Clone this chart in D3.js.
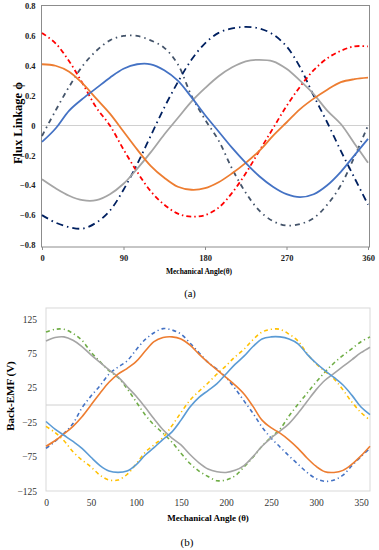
<!doctype html>
<html lang="en">
<head>
<meta charset="utf-8">
<script src="https://d3js.org/d3.v7.min.js"></script>
<title>Flux linkage and back-EMF</title>
<style>
  body { margin: 0; background: #fff; }
  svg { display: block; font-family: "Liberation Serif", "Times New Roman", serif; }
</style>
</head>
<body>
<svg id="chart" width="379" height="550"></svg>
<script>
// ---- (a) flux linkage, every 15 degrees
const anglesA = d3.range(0, 361, 15);
const fluxBlue   = [-0.11,-0.02,0.10,0.18,0.25,0.32,0.38,0.41,0.41,0.37,0.30,0.19,0.07,-0.04,-0.15,-0.25,-0.34,-0.41,-0.46,-0.48,-0.46,-0.40,-0.31,-0.20,-0.09];
const fluxOrange = [0.41,0.40,0.36,0.28,0.18,0.08,-0.04,-0.16,-0.27,-0.35,-0.41,-0.43,-0.42,-0.38,-0.32,-0.25,-0.17,-0.07,0.02,0.11,0.18,0.24,0.29,0.31,0.32];
const fluxGray   = [-0.36,-0.42,-0.47,-0.50,-0.50,-0.46,-0.39,-0.29,-0.18,-0.06,0.05,0.16,0.25,0.33,0.39,0.43,0.44,0.43,0.38,0.30,0.21,0.10,0.01,-0.12,-0.25];
const fluxRed    = [0.62,0.55,0.43,0.28,0.12,0.00,-0.16,-0.31,-0.44,-0.53,-0.59,-0.61,-0.60,-0.55,-0.45,-0.32,-0.17,-0.02,0.13,0.26,0.37,0.45,0.50,0.53,0.53];
const fluxNavy   = [-0.60,-0.65,-0.68,-0.69,-0.65,-0.57,-0.43,-0.26,-0.07,0.12,0.29,0.44,0.55,0.62,0.65,0.66,0.65,0.61,0.53,0.39,0.20,0.02,-0.17,-0.35,-0.53];
const fluxSlate  = [-0.07,0.10,0.26,0.40,0.50,0.57,0.60,0.60,0.57,0.52,0.41,0.20,0.04,-0.10,-0.29,-0.45,-0.57,-0.64,-0.67,-0.66,-0.62,-0.53,-0.40,-0.21,0.00];
const fluxTicksX = [0, 90, 180, 270, 360];
const fluxTicksY = [-0.8,-0.6,-0.4,-0.2,0,0.2,0.4,0.6,0.8];

// ---- (b) back-EMF, every 10 degrees
const anglesB = d3.range(0, 361, 10);
const emfGray   = [93,98,99,94,85,73,62,51,41,27,13,-3,-20,-36,-48,-58,-72,-84,-93,-97,-98,-95,-88,-75,-60,-48,-38,-27,-12,5,22,36,46,56,66,76,84];
const emfOrange = [-60,-52,-42,-31,-17,0,17,33,45,53,63,78,92,98,99,96,87,74,62,51,40,29,16,-2,-22,-33,-41,-51,-63,-77,-89,-97,-98,-95,-86,-74,-60];
const emfBlue   = [-24,-35,-44,-53,-63,-76,-88,-96,-98,-96,-87,-73,-62,-50,-39,-22,-3,11,21,31,45,59,71,85,96,99,99,96,89,74,61,50,40,29,14,-3,-14];
const emfGreen  = [106,110,110,104,94,77,63,50,40,24,5,-14,-29,-41,-54,-70,-85,-96,-104,-110,-109,-103,-90,-76,-60,-47,-35,-16,1,17,33,48,61,72,82,92,99];
const emfBlueDD = [-63,-53,-41,-27,-4,13,28,45,55,64,80,95,105,111,109,103,90,76,62,52,40,24,6,-12,-32,-48,-61,-74,-86,-98,-107,-111,-109,-102,-88,-75,-63];
const emfYellow = [-31,-40,-52,-68,-80,-90,-102,-109,-109,-101,-86,-69,-58,-47,-30,-11,7,20,32,45,57,70,81,95,106,110,110,103,93,75,60,49,38,22,4,-11,-22];
const emfTicksX = [0,50,100,150,200,250,300,350];
const emfTicksY = [-125,-75,-25,25,75,125];

const svg = d3.select("#chart");

// ================= chart (a)
const xA = d3.scaleLinear().domain([0, 360]).range([42, 368]);
const yA = d3.scaleLinear().domain([-0.8, 0.8]).range([245, 6]);
const gA = svg.append("g");

gA.append("rect")
  .attr("x", 41.5).attr("y", 5.5).attr("width", 328).attr("height", 241.5)
  .attr("fill", "none").attr("stroke", "#8c8c8c").attr("stroke-width", 1);

gA.append("line")
  .attr("x1", 42).attr("x2", 369).attr("y1", yA(0)).attr("y2", yA(0))
  .attr("stroke", "#d0d0d0").attr("stroke-width", 1);

gA.append("g")
  .attr("transform", "translate(41.5,0)")
  .call(d3.axisLeft(yA).tickValues(fluxTicksY).tickSize(0).tickPadding(6)
    .tickFormat(d => d === 0 ? "0" : d3.format(".1f")(d)))
  .call(g => g.select(".domain").remove())
  .selectAll("text")
  .attr("font-family", "Liberation Serif").attr("font-weight", "bold")
  .attr("font-size", 8.5).attr("fill", "#222");

gA.append("g")
  .attr("transform", "translate(0,247)")
  .call(d3.axisBottom(xA).tickValues(fluxTicksX).tickSize(3).tickPadding(5))
  .call(g => g.select(".domain").remove())
  .call(g => g.selectAll("line").attr("stroke", "#8c8c8c"))
  .selectAll("text")
  .attr("font-family", "Liberation Serif").attr("font-weight", "bold")
  .attr("font-size", 8.5).attr("fill", "#222");

const lineA = d3.line().x((d, i) => xA(anglesA[i])).y(d => yA(d)).curve(d3.curveCatmullRom);

const seriesA = [
  { v: fluxSlate,  c: "#44546a", dash: "5,4,1.5,4", w: 1.8 },
  { v: fluxNavy,   c: "#002060", dash: "7,4,1.5,4", w: 1.8 },
  { v: fluxRed,    c: "#ff0000", dash: "5,3,1.5,3", w: 1.8 },
  { v: fluxGray,   c: "#a5a5a5", dash: null, w: 1.8 },
  { v: fluxOrange, c: "#ed7d31", dash: null, w: 1.8 },
  { v: fluxBlue,   c: "#4472c4", dash: null, w: 1.8 }
];

gA.selectAll("path.series")
  .data(seriesA)
  .join("path")
  .attr("class", "series")
  .attr("d", s => lineA(s.v))
  .attr("fill", "none")
  .attr("stroke", s => s.c)
  .attr("stroke-width", s => s.w)
  .attr("stroke-dasharray", s => s.dash);

gA.append("text")
  .attr("transform", "translate(22,123) rotate(-90)")
  .attr("text-anchor", "middle")
  .attr("font-weight", "bold").attr("font-size", 12.5)
  .text("Flux Linkage ϕ");

gA.append("text")
  .attr("x", 199).attr("y", 274)
  .attr("text-anchor", "middle")
  .attr("font-weight", "bold").attr("font-size", 7.5)
  .text("Mechanical Angle(θ)");

gA.append("text")
  .attr("x", 190).attr("y", 297)
  .attr("text-anchor", "middle")
  .attr("font-size", 10.5)
  .text("(a)");

// ================= chart (b)
const xB = d3.scaleLinear().domain([0, 360]).range([46, 370]);
const yB = d3.scaleLinear().domain([-125, 125]).range([491, 319]);
const gB = svg.append("g");

gB.append("rect")
  .attr("x", 46).attr("y", yB(141)).attr("width", 324).attr("height", yB(-125) - yB(141))
  .attr("fill", "none").attr("stroke", "#d9d9d9").attr("stroke-width", 1);

gB.append("line")
  .attr("x1", 46).attr("x2", 370).attr("y1", yB(0)).attr("y2", yB(0))
  .attr("stroke", "#d0d0d0").attr("stroke-width", 1);

gB.append("g")
  .attr("transform", "translate(46,0)")
  .call(d3.axisLeft(yB).tickValues(emfTicksY).tickSize(0).tickPadding(9))
  .call(g => g.select(".domain").remove())
  .selectAll("text")
  .attr("font-family", "Liberation Serif")
  .attr("font-size", 9.5).attr("fill", "#333");

gB.append("g")
  .attr("transform", "translate(0,491)")
  .call(d3.axisBottom(xB).tickValues(emfTicksX).tickSize(0).tickPadding(8))
  .call(g => g.select(".domain").remove())
  .selectAll("text")
  .attr("font-family", "Liberation Serif")
  .attr("font-size", 9.5).attr("fill", "#333");

const lineB = d3.line().x((d, i) => xB(anglesB[i])).y(d => yB(d)).curve(d3.curveCatmullRom);

const seriesB = [
  { v: emfGreen,  c: "#70ad47", dash: "4,3,1.2,3" },
  { v: emfBlueDD, c: "#4472c4", dash: "4,3,1.2,3" },
  { v: emfYellow, c: "#ffc000", dash: "4,3,1.2,3" },
  { v: emfGray,   c: "#a5a5a5", dash: null },
  { v: emfOrange, c: "#ed7d31", dash: null },
  { v: emfBlue,   c: "#5b9bd5", dash: null }
];

gB.selectAll("path.series")
  .data(seriesB)
  .join("path")
  .attr("class", "series")
  .attr("d", s => lineB(s.v))
  .attr("fill", "none")
  .attr("stroke", s => s.c)
  .attr("stroke-width", 1.6)
  .attr("stroke-dasharray", s => s.dash);

gB.append("text")
  .attr("transform", "translate(14,396) rotate(-90)")
  .attr("text-anchor", "middle")
  .attr("font-weight", "bold").attr("font-size", 11)
  .text("Back-EMF (V)");

gB.append("text")
  .attr("x", 208).attr("y", 521)
  .attr("text-anchor", "middle")
  .attr("font-weight", "bold").attr("font-size", 9)
  .text("Mechanical Angle (θ)");

gB.append("text")
  .attr("x", 187).attr("y", 546)
  .attr("text-anchor", "middle")
  .attr("font-size", 11)
  .text("(b)");
</script>
</body>
</html>
